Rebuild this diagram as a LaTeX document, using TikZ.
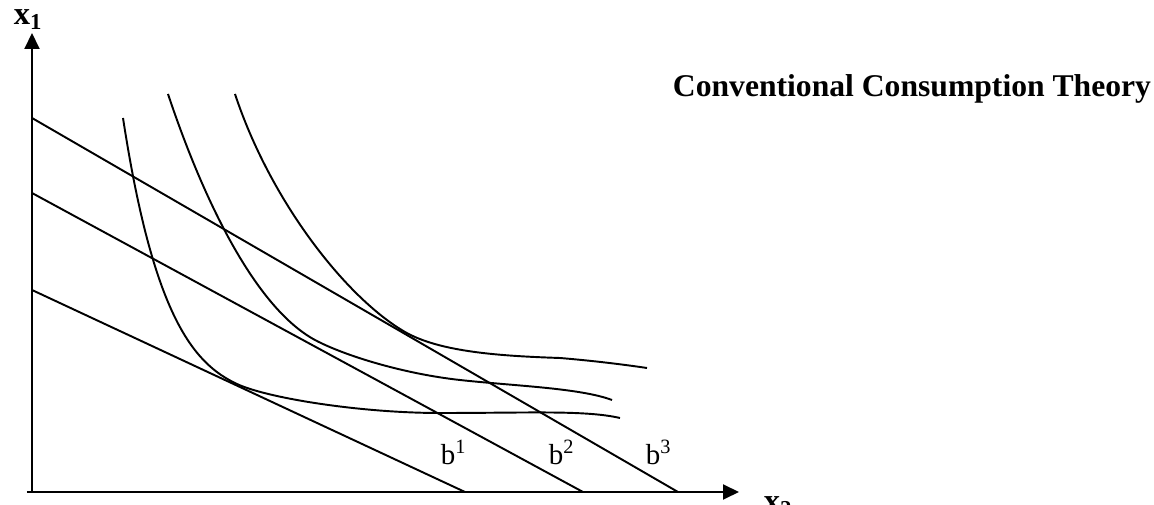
\documentclass[tikz,border=0pt]{standalone}
\usepackage{fontspec}
\setmainfont{Liberation Serif}
\usetikzlibrary{arrows.meta}

\begin{document}
\begin{tikzpicture}[>={Triangle[length=0.32cm,width=0.3cm]}, line width=1.1pt,
  axislbl/.style={anchor=base west, inner sep=0pt, font=\bfseries\fontsize{18.5}{20}\selectfont},
  budgetlbl/.style={anchor=base west, inner sep=0pt, font=\fontsize{16.5}{18}\selectfont}]
\useasboundingbox (0,0) rectangle (23.08,10.10);

% axes
\coordinate (O) at (0.64,0.26);
\coordinate (xstart) at (0.54,0.26);
\coordinate (xtip) at (14.78,0.26);
\coordinate (ytip) at (0.64,9.44);
\draw[->] (xstart) -- (xtip);
\draw[->] (O) -- (ytip);
\node[axislbl] (xone) at (0.26,9.60) {x\textsubscript{1}};
\node[axislbl] (xtwo) at (15.26,-0.14) {x\textsubscript{2}};

% budget lines
\coordinate (bone0) at (0.64,4.30);   \coordinate (bone1) at (9.30,0.26);
\coordinate (btwo0) at (0.64,6.24);   \coordinate (btwo1) at (11.66,0.26);
\coordinate (bthree0) at (0.64,7.74); \coordinate (bthree1) at (13.56,0.26);
\draw (bone0) -- (bone1);
\draw (btwo0) -- (btwo1);
\draw (bthree0) -- (bthree1);
\node[budgetlbl] (bone) at (8.80,0.80) {b\textsuperscript{1}};
\node[budgetlbl] (btwo) at (10.96,0.80) {b\textsuperscript{2}};
\node[budgetlbl] (bthree) at (12.90,0.80) {b\textsuperscript{3}};

% indifference curves
\draw (2.46,7.74) .. controls (3.06,3.84) and (3.84,2.84) .. (4.74,2.42)
  .. controls (5.34,2.14) and (7.20,1.84) .. (8.80,1.84)
  .. controls (10.60,1.84) and (11.70,1.90) .. (12.40,1.74);
\draw (3.36,8.22) .. controls (4.06,6.12) and (5.10,3.95) .. (6.30,3.30)
  .. controls (6.90,2.98) and (8.10,2.62) .. (9.20,2.50)
  .. controls (10.30,2.38) and (11.60,2.34) .. (12.24,2.10);
\draw (4.70,8.22) .. controls (5.40,6.10) and (6.90,4.16) .. (8.10,3.46)
  .. controls (8.80,3.06) and (10.00,2.98) .. (11.20,2.94)
  .. controls (11.80,2.89) and (12.40,2.82) .. (12.94,2.74);

\node[anchor=base west, inner sep=0pt, font=\bfseries\fontsize{18}{20}\selectfont] (title)
  at (13.44,8.16) {Conventional Consumption Theory};
\end{tikzpicture}
\end{document}
